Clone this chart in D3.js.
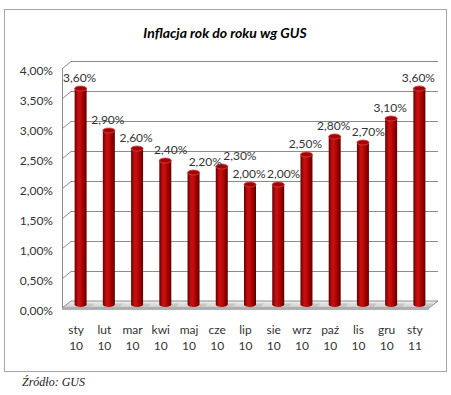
<!DOCTYPE html>
<html>
<head>
<meta charset="utf-8">
<script src="https://cdn.jsdelivr.net/npm/d3@7"></script>
<style>
	body { margin: 0; background: #fff; }
	svg { display: block; }
</style>
</head>
<body>
<div id="content"></div>
<script>
var months = ["sty", "lut", "mar", "kwi", "maj", "cze", "lip", "sie", "wrz", "paź", "lis", "gru", "sty"];
var years = ["10", "10", "10", "10", "10", "10", "10", "10", "10", "10", "10", "10", "11"];
var inflation = [0.036, 0.029, 0.026, 0.024, 0.022, 0.023, 0.020, 0.020, 0.025, 0.028, 0.027, 0.031, 0.036];
var yTicks = [0, 0.005, 0.01, 0.015, 0.02, 0.025, 0.03, 0.035, 0.04];

var title = "Inflacja rok do roku wg GUS";
var source = "Źródło: GUS";

function main() {
	var width = 451, height = 395;
	var svg = d3.select("#content").append("svg")
		.attr("width", width)
		.attr("height", height);

	var pl = d3.formatLocale({ decimal: ",", thousands: " ", grouping: [3], currency: ["", " zł"] });
	var fmt = pl.format(".2%");

	// 3d depth offset of back wall vs front plane
	var dx = 9, dy = -7;
	var font = "Lato, 'Open Sans', sans-serif";

	var x = d3.scaleBand()
		.domain(d3.range(months.length))
		.range([62, 429]);

	var y = d3.scaleLinear()
		.domain([0, 0.04])
		.range([308, 68]);

	var defs = svg.append("defs");
	var grad = defs.append("linearGradient").attr("id", "cyl");
	[["0%", "#6a0000"], ["30%", "#c41010"], ["45%", "#c80c0c"], ["75%", "#9a0000"], ["100%", "#5e0000"]]
		.forEach(function (s) { grad.append("stop").attr("offset", s[0]).attr("stop-color", s[1]); });
	var floorGrad = defs.append("linearGradient").attr("id", "floor")
		.attr("x1", 0).attr("y1", 0).attr("x2", 0).attr("y2", 1);
	floorGrad.append("stop").attr("offset", "0%").attr("stop-color", "#f2f2f2");
	floorGrad.append("stop").attr("offset", "100%").attr("stop-color", "#c9c9c9");

	// outer frame
	svg.append("rect")
		.attr("x", 4.5).attr("y", 9.5)
		.attr("width", 442).attr("height", 362)
		.attr("fill", "#fff")
		.attr("stroke", "#a6a6a6");

	svg.append("text")
		.attr("x", 225).attr("y", 38)
		.attr("text-anchor", "middle")
		.attr("font-family", font)
		.attr("font-size", 14)
		.attr("font-weight", "bold")
		.attr("font-style", "italic")
		.attr("fill", "#000")
		.text(title);

	var x0 = x.range()[0], x1 = x.range()[1];

	// back wall grid + left wall diagonals
	var grid = svg.append("g");
	grid.selectAll(".back")
		.data(yTicks)
		.enter().append("path")
		.attr("fill", "none")
		.attr("stroke", "#8c8c8c")
		.attr("d", function (d) {
			var yy = Math.round(y(d)) + 0.5;
			return "M" + (x0 + 0.5) + "," + yy + "L" + (x0 + dx) + "," + (yy + dy) + "L" + (x1 + dx) + "," + (yy + dy);
		});
	grid.append("line")
		.attr("x1", x0 + 0.5).attr("x2", x0 + 0.5)
		.attr("y1", y(0.04)).attr("y2", y(0))
		.attr("stroke", "#8c8c8c");

	// floor
	var fy = y(0);
	svg.append("path")
		.attr("d", "M" + x0 + "," + fy + "L" + (x0 + dx) + "," + (fy + dy) + "L" + (x1 + dx) + "," + (fy + dy) + "L" + x1 + "," + fy + "Z")
		.attr("fill", "url(#floor)")
		.attr("stroke", "#8c8c8c");
	svg.append("path")
		.attr("d", "M" + x0 + "," + fy + "L" + x1 + "," + fy + "L" + x1 + "," + (fy + 2) + "L" + x0 + "," + (fy + 2) + "Z")
		.attr("fill", "#b0b0b0");

	// y tick labels
	svg.append("g").selectAll("text")
		.data(yTicks)
		.enter().append("text")
		.attr("x", 53)
		.attr("y", function (d) { return y(d) + 3; })
		.attr("dy", "0.35em")
		.attr("text-anchor", "end")
		.attr("font-family", font)
		.attr("font-size", 12)
		.attr("fill", "#333")
		.text(function (d) { return fmt(d); });

	// cylinders
	var bw = 12, ry = 2.5;
	var cx = function (i) { return x(i) + x.bandwidth() / 2 + dx / 2; };
	var base = function (v) { return y(v) + dy / 2; };

	var bars = svg.append("g").selectAll("g")
		.data(inflation)
		.enter().append("g");

	// shadow on floor
	bars.append("path")
		.attr("fill", "#b8b8b8")
		.attr("opacity", 0.6)
		.attr("d", function (d, i) {
			var c = cx(i), b = base(0);
			return "M" + (c + bw / 2) + "," + (b - 1) + "L" + (c + bw / 2 + 8) + "," + (b - 1) + "L" + (c + bw / 2 + 4) + "," + (b + 3) + "L" + (c + bw / 2) + "," + (b + 3) + "Z";
		});

	bars.append("path")
		.attr("fill", "url(#cyl)")
		.attr("d", function (d, i) {
			var c = cx(i), t = base(d), b = base(0);
			return "M" + (c - bw / 2) + "," + t +
				"L" + (c - bw / 2) + "," + b +
				"A" + (bw / 2) + "," + ry + " 0 0 0 " + (c + bw / 2) + "," + b +
				"L" + (c + bw / 2) + "," + t + "Z";
		});
	bars.append("ellipse")
		.attr("cx", function (d, i) { return cx(i); })
		.attr("cy", function (d) { return base(d); })
		.attr("rx", bw / 2)
		.attr("ry", ry)
		.attr("fill", "#a80000")
		.attr("stroke", "#cf4a4a")
		.attr("stroke-width", 0.8);

	// value labels
	var labels = svg.append("g").selectAll("text")
		.data(inflation)
		.enter().append("text")
		.attr("x", function (d, i) { return cx(i) - 1; })
		.attr("y", function (d) { return base(d) - 7; })
		.attr("text-anchor", "middle")
		.attr("font-family", font)
		.attr("font-size", 12)
		.attr("fill", "#333")
		.text(function (d) { return fmt(d); });

	// push a label right if it collides with the previous one (like Excel does)
	var nodes = labels.nodes();
	for (var i = 1; i < nodes.length; i++) {
		var a = nodes[i - 1].getBBox(), b = nodes[i].getBBox();
		var vOverlap = a.y < b.y + b.height && b.y < a.y + a.height;
		if (vOverlap && a.x + a.width > b.x - 1) {
			var shift = a.x + a.width - b.x + 1;
			d3.select(nodes[i]).attr("x", +d3.select(nodes[i]).attr("x") + shift);
		}
	}

	// category labels
	var cat = svg.append("g").selectAll("text")
		.data(months)
		.enter().append("text")
		.attr("text-anchor", "middle")
		.attr("font-family", font)
		.attr("font-size", 12)
		.attr("fill", "#333")
		.attr("x", function (d, i) { return x(i) + x.bandwidth() / 2; })
		.attr("y", 334);
	cat.append("tspan").text(function (d) { return d; });
	cat.append("tspan")
		.attr("x", function (d, i) { return x(i) + x.bandwidth() / 2; })
		.attr("dy", 16)
		.text(function (d, i) { return years[i]; });

	svg.append("text")
		.attr("x", 22).attr("y", 386)
		.attr("font-family", "'Liberation Serif', 'DejaVu Serif', serif")
		.attr("font-style", "italic")
		.attr("font-size", 12)
		.attr("fill", "#222")
		.text(source);
}

main();
</script>
</body>
</html>
